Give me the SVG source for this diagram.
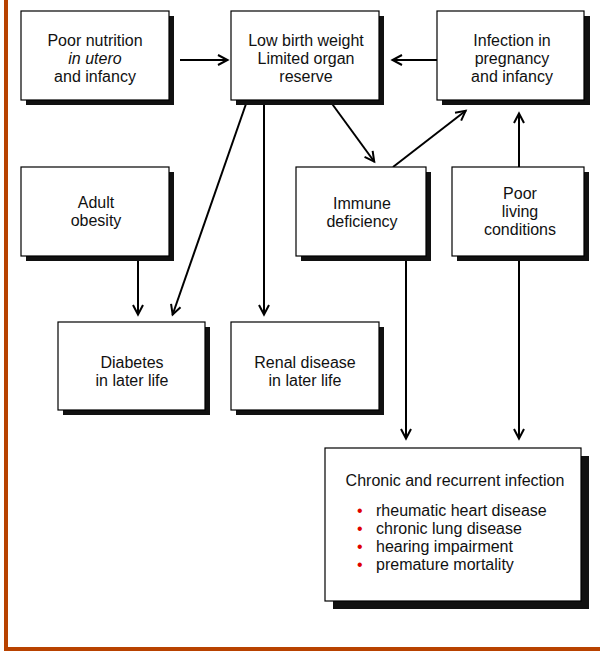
<svg xmlns="http://www.w3.org/2000/svg" width="600" height="651" viewBox="0 0 600 651">
<defs>
<style>
.box{fill:#fff;stroke:#000;stroke-width:1.2}
.sh{fill:#111}
.t{font-family:"Liberation Sans",Arial,sans-serif;font-size:16px;fill:#111;text-anchor:middle}
.l{font-family:"Liberation Sans",Arial,sans-serif;font-size:16px;fill:#111}
.b{font-family:"Liberation Sans",Arial,sans-serif;font-size:16px;fill:#e00000}
.c{stroke:#000;stroke-width:2;fill:none;marker-end:url(#ah)}
</style>
<marker id="ah" markerUnits="userSpaceOnUse" markerWidth="14" markerHeight="14" viewBox="-12 -7 14 14" refX="0" refY="0" orient="auto">
<path d="M-10,-5 L-0.5,0 L-10,5" fill="none" stroke="#000" stroke-width="2"/>
</marker>
</defs>
<rect x="0" y="0" width="600" height="651" fill="#fff"/>
<rect x="4" y="0" width="4" height="651" fill="#b84200"/>
<rect x="4" y="647" width="596" height="4" fill="#b84200"/>

<g id="connectors">
<path class="c" d="M180,60 L228,60"/>
<path class="c" d="M437,60 L392,60"/>
<path class="c" d="M247,101 L172.5,315"/>
<path class="c" d="M264,101 L264,315"/>
<path class="c" d="M330,101 L374.5,162"/>
<path class="c" d="M393,167 L466,110.5"/>
<path class="c" d="M519,167 L519,113"/>
<path class="c" d="M138,257 L138,315"/>
<path class="c" d="M406,257 L406,439"/>
<path class="c" d="M519,257 L519,439"/>
</g>

<g id="poor-nutrition">
<rect class="sh" x="26" y="16" width="148" height="89"/>
<rect class="box" x="21" y="11" width="148" height="89"/>
<text class="t" x="95" y="46">Poor nutrition</text>
<text class="t" x="95" y="64" font-style="italic">in utero</text>
<text class="t" x="95" y="82">and infancy</text>
</g>

<g id="low-birth-weight">
<rect class="sh" x="236" y="16" width="148" height="89"/>
<rect class="box" x="231" y="11" width="148" height="89"/>
<text class="t" x="306" y="46">Low birth weight</text>
<text class="t" x="306" y="64">Limited organ</text>
<text class="t" x="306" y="82">reserve</text>
</g>

<g id="infection-pregnancy">
<rect class="sh" x="442" y="16" width="148" height="89"/>
<rect class="box" x="437" y="11" width="147" height="89"/>
<text class="t" x="512" y="46">Infection in</text>
<text class="t" x="512" y="64">pregnancy</text>
<text class="t" x="512" y="82">and infancy</text>
</g>

<g id="adult-obesity">
<rect class="sh" x="26" y="172" width="148" height="89"/>
<rect class="box" x="21" y="167" width="148" height="89"/>
<text class="t" x="96" y="208">Adult</text>
<text class="t" x="96" y="226">obesity</text>
</g>

<g id="immune-deficiency">
<rect class="sh" x="301" y="172" width="130" height="89"/>
<rect class="box" x="296" y="167" width="130" height="89"/>
<text class="t" x="362" y="209">Immune</text>
<text class="t" x="362" y="227">deficiency</text>
</g>

<g id="poor-living">
<rect class="sh" x="457" y="172" width="132" height="89"/>
<rect class="box" x="452" y="167" width="132" height="89"/>
<text class="t" x="520" y="199">Poor</text>
<text class="t" x="520" y="217">living</text>
<text class="t" x="520" y="235">conditions</text>
</g>

<g id="diabetes">
<rect class="sh" x="63" y="327" width="147" height="88"/>
<rect class="box" x="58" y="322" width="147" height="88"/>
<text class="t" x="132" y="368">Diabetes</text>
<text class="t" x="132" y="386">in later life</text>
</g>

<g id="renal-disease">
<rect class="sh" x="236" y="327" width="148" height="88"/>
<rect class="box" x="231" y="322" width="148" height="88"/>
<text class="t" x="305" y="368">Renal disease</text>
<text class="t" x="305" y="386">in later life</text>
</g>

<g id="chronic-infection">
<rect class="sh" x="333" y="456" width="256" height="153"/>
<rect class="box" x="325" y="448" width="256" height="153"/>
<text class="t" x="455" y="486">Chronic and recurrent infection</text>
<text class="b" x="357" y="516">•</text>
<text class="l" x="376" y="516">rheumatic heart disease</text>
<text class="b" x="357" y="534">•</text>
<text class="l" x="376" y="534">chronic lung disease</text>
<text class="b" x="357" y="552">•</text>
<text class="l" x="376" y="552">hearing impairment</text>
<text class="b" x="357" y="570">•</text>
<text class="l" x="376" y="570">premature mortality</text>
</g>
</svg>
